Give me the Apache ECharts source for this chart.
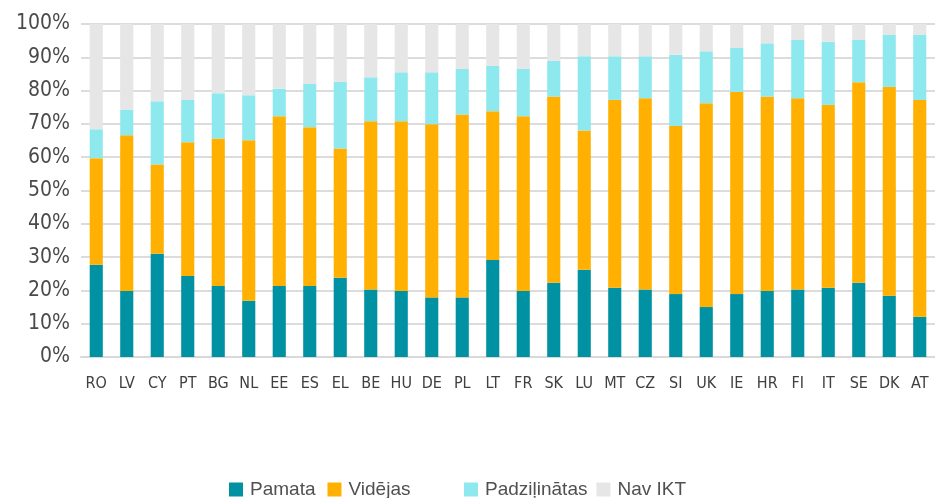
<!DOCTYPE html>
<html>
<head>
<meta charset="utf-8">
<script src="https://cdn.jsdelivr.net/npm/echarts@6/dist/echarts.min.js"></script>
<style>
  html, body { margin: 0; padding: 0; background: #fff; }
  #chart { width: 935px; height: 498px; }
</style>
</head>
<body>
<div id="chart"></div>
<script>
// countries, in the order shown
var countries = ['RO', 'LV', 'CY', 'PT', 'BG', 'NL', 'EE', 'ES', 'EL', 'BE', 'HU', 'DE', 'PL', 'LT',
    'FR', 'SK', 'LU', 'MT', 'CZ', 'SI', 'UK', 'IE', 'HR', 'FI', 'IT', 'SE', 'DK', 'AT'];

// shares in %
var pamata = [27.7, 19.8, 31.0, 24.3, 21.3, 16.9, 21.3, 21.3, 23.8, 20.3, 19.8, 17.9, 17.9, 29.1,
    19.8, 22.3, 26.2, 20.8, 20.3, 18.9, 15.0, 18.9, 19.8, 20.3, 20.8, 22.3, 18.4, 12.1];
var videjas = [32.0, 46.8, 26.8, 40.2, 44.3, 48.2, 51.0, 47.7, 38.8, 50.5, 51.0, 52.0, 54.9, 44.7,
    52.5, 55.9, 41.8, 56.4, 57.4, 50.5, 61.2, 60.7, 58.4, 57.4, 54.9, 60.2, 62.7, 65.1];
var padzilinatas = [8.7, 7.7, 19.0, 12.7, 13.6, 13.5, 8.3, 13.0, 20.0, 13.2, 14.7, 15.6, 13.7, 13.6,
    14.2, 10.7, 22.3, 13.1, 12.6, 21.4, 15.6, 13.2, 16.0, 17.5, 19.0, 12.7, 15.6, 19.5];
var navIkt = [31.6, 25.7, 23.2, 22.8, 20.8, 21.4, 19.4, 18.0, 17.4, 16.0, 14.5, 14.5, 13.5, 12.6,
    13.5, 11.1, 9.7, 9.7, 9.7, 9.2, 8.2, 7.2, 5.8, 4.8, 5.3, 4.8, 3.3, 3.3];

var yTicks = [0, 10, 20, 30, 40, 50, 60, 70, 80, 90, 100];

var chart = echarts.init(document.getElementById('chart'));

function bar(name, data, color) {
    return {
        name: name,
        type: 'bar',
        stack: 'total',
        barWidth: '43%',
        itemStyle: { color: color },
        data: data
    };
}

var legendText = { fontFamily: 'Liberation Sans, Arial, sans-serif', fontSize: 19, color: '#505050', padding: [0, 0, 0, 2] };

chart.setOption({
    animation: false,
    grid: { left: 81, right: 0, top: 24, bottom: 141 },
    legend: [{
        left: 224,
        top: 475,
        itemWidth: 14,
        itemHeight: 14,
        itemGap: 12,
        icon: 'rect',
        textStyle: legendText,
        data: ['Pamata', 'Vidējas']
    }, {
        left: 459,
        top: 475,
        itemWidth: 14,
        itemHeight: 14,
        itemGap: 9,
        icon: 'rect',
        textStyle: legendText,
        data: ['Padziļinātas', 'Nav IKT']
    }],
    xAxis: {
        type: 'category',
        data: countries,
        axisLine: { lineStyle: { color: '#d9d9d9', width: 2 } },
        axisTick: { show: false },
        axisLabel: {
            interval: 0,
            margin: 19,
            fontFamily: 'DejaVu Sans Condensed, DejaVu Sans, sans-serif',
            fontSize: 16,
            color: '#404040'
        }
    },
    yAxis: {
        type: 'value',
        min: yTicks[0],
        max: yTicks[yTicks.length - 1],
        interval: 10,
        axisLine: { show: false },
        axisTick: { show: false },
        splitLine: { lineStyle: { color: '#dcdcdc', width: 2 } },
        axisLabel: {
            margin: 11,
            formatter: '{value}%',
            fontFamily: 'DejaVu Sans Condensed, DejaVu Sans, sans-serif',
            fontSize: 21,
            color: '#4a4a4a'
        }
    },
    series: [
        bar('Pamata', pamata, '#0092a2'),
        bar('Vidējas', videjas, '#ffb000'),
        bar('Padziļinātas', padzilinatas, '#8ee9ee'),
        bar('Nav IKT', navIkt, '#e6e6e6')
    ]
});
</script>
</body>
</html>
